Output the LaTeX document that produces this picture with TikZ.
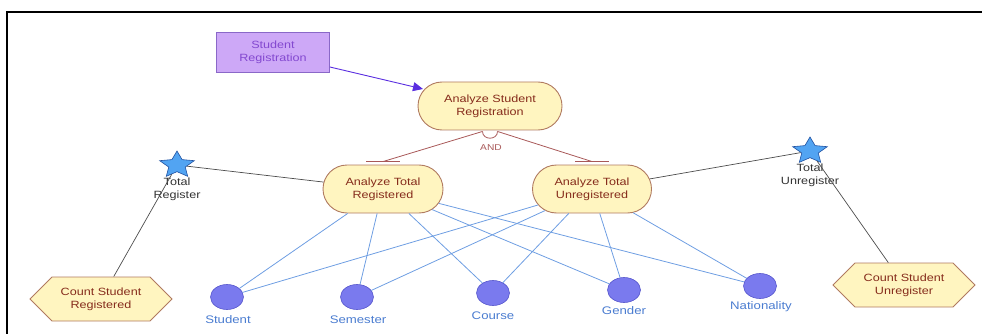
\documentclass[tikz,border=0pt]{standalone}
\usepackage{fontspec}
\setmainfont{Liberation Sans}[FakeStretch=1.2]
\usepackage{xcolor}
\usetikzlibrary{arrows.meta,positioning,shapes.geometric,shapes.symbols,shapes.misc}

\definecolor{goalfill}{HTML}{FFF5C0}
\definecolor{goalline}{HTML}{B07A60}
\definecolor{goaltext}{HTML}{862C1C}
\definecolor{resfill}{HTML}{CDA8F7}
\definecolor{resline}{HTML}{8A68C8}
\definecolor{restext}{HTML}{8348D0}
\definecolor{resarrow}{HTML}{5A2EE0}
\definecolor{andline}{HTML}{A85858}
\definecolor{starfill}{HTML}{52A4F2}
\definecolor{starline}{HTML}{2050A0}
\definecolor{dotfill}{HTML}{7A7AEE}
\definecolor{dotline}{HTML}{5656CC}
\definecolor{dottext}{HTML}{4A7CD0}
\definecolor{linkblue}{HTML}{6E9EE2}

\begin{document}
\begin{tikzpicture}[
    x=1pt, y=-1pt,
    every node/.style={font=\fontsize{10.5}{13}\selectfont, align=center},
    goal/.style={rounded rectangle, draw=goalline, fill=goalfill, text=goaltext, line width=0.9pt, inner sep=0pt},
    resource/.style={rectangle, draw=resline, fill=resfill, text=restext, line width=0.8pt, minimum width=113pt, minimum height=40pt, inner sep=0pt},
    task/.style={signal, signal to=west and east, draw=goalline, fill=goalfill, text=goaltext, line width=0.9pt, minimum width=142pt, minimum height=44pt, inner sep=0pt},
    softgoal/.style={star, star points=5, star point ratio=2.1, draw=starline, fill=starfill, line width=0.6pt, minimum size=28pt, inner sep=0pt, xscale=1.3, transform shape},
    dot/.style={ellipse, draw=dotline, fill=dotfill, line width=0.6pt, minimum width=33pt, minimum height=25pt, inner sep=0pt},
    dotlabel/.style={text=dottext, font=\fontsize{11}{13}\selectfont},
    starlabel/.style={text=black!80},
    contrib/.style={draw=black!70, line width=0.7pt},
    link/.style={draw=linkblue, line width=0.8pt},
    decomp/.style={draw=andline, line width=0.8pt},
]
    \useasboundingbox (0,0) rectangle (982,334);

    % Frame
    \draw[line width=1.8pt] (7,334) -- (7,12) -- (982,12);

    % Layer 0: resource and top goal
    \node[resource] (stureg) at (273,52) {Student\\Registration};
    \node[goal, minimum width=144pt, minimum height=48pt] (anastu) at (490,106) {Analyze Student\\Registration};

    % Layer 1: sub goals
    \node[goal, minimum width=120pt, minimum height=48pt] (anareg) at (383,189) {Analyze Total\\Registered};
    \node[goal, minimum width=119pt, minimum height=48pt] (anaunreg) at (592,189) {Analyze Total\\Unregistered};

    % Soft goals
    \node[softgoal] (starreg) at (177,165) {};
    \node[starlabel] (lblreg) at (177,189) {Total\\Register};
    \node[softgoal] (starunreg) at (810,151) {};
    \node[starlabel] (lblunreg) at (810,175) {Total\\Unregister};

    % Tasks
    \node[task] (cntreg) at (101,299) {Count Student\\Registered};
    \node[task] (cntunreg) at (904,285) {Count Student\\Unregister};

    % Layer 2: attributes
    \node[dot] (student) at (227,297) {};
    \node[dot] (semester) at (357,297) {};
    \node[dot] (course) at (493,293) {};
    \node[dot] (gender) at (624,290) {};
    \node[dot] (nationality) at (760,286) {};
    \node[dotlabel] (lstudent) at (228,320) {Student};
    \node[dotlabel] (lsemester) at (358,320) {Semester};
    \node[dotlabel] (lcourse) at (493,316) {Course};
    \node[dotlabel] (lgender) at (624,311) {Gender};
    \node[dotlabel] (lnationality) at (761,307) {Nationality};

    % Resource arrow
    \draw[resarrow, line width=0.9pt, -{Triangle[length=10pt, width=9pt]}] ([yshift=-15pt]stureg.east) -- ([xshift=-67pt, yshift=17pt]anastu.center);

    % AND decomposition
    \coordinate (andl) at ([xshift=-7.5pt, yshift=-1pt]anastu.south);
    \coordinate (andr) at ([xshift=7.5pt, yshift=-1pt]anastu.south);
    \draw[decomp] (andl) .. controls +(0,9) and +(0,9) .. (andr);
    \draw[decomp] (andl) -- ([yshift=3pt]anareg.north);
    \draw[decomp] (andr) -- ([yshift=3pt]anaunreg.north);
    \draw[decomp] ([xshift=-17pt, yshift=3pt]anareg.north) -- ([xshift=17pt, yshift=3pt]anareg.north);
    \draw[decomp] ([xshift=-17pt, yshift=3pt]anaunreg.north) -- ([xshift=17pt, yshift=3pt]anaunreg.north);
    \node[text=andline, font=\fontsize{8.5}{10}\selectfont] (andlbl) at (491,148) {AND};

    % Contributions to soft goals
    \draw[contrib] (starreg) -- (anareg);
    \draw[contrib] (starreg) -- (cntreg);
    \draw[contrib] (starunreg) -- (anaunreg);
    \draw[contrib] (starunreg) -- (cntunreg);

    % Links to attributes
    \draw[link] (anareg) -- (student);
    \draw[link] (anareg) -- (semester);
    \draw[link] (anareg) -- (course);
    \draw[link] (anareg) -- (gender);
    \draw[link] (anareg) -- (nationality);
    \draw[link] (anaunreg) -- (student);
    \draw[link] (anaunreg) -- (semester);
    \draw[link] (anaunreg) -- (course);
    \draw[link] (anaunreg) -- (gender);
    \draw[link] (anaunreg) -- (nationality);
\end{tikzpicture}
\end{document}
